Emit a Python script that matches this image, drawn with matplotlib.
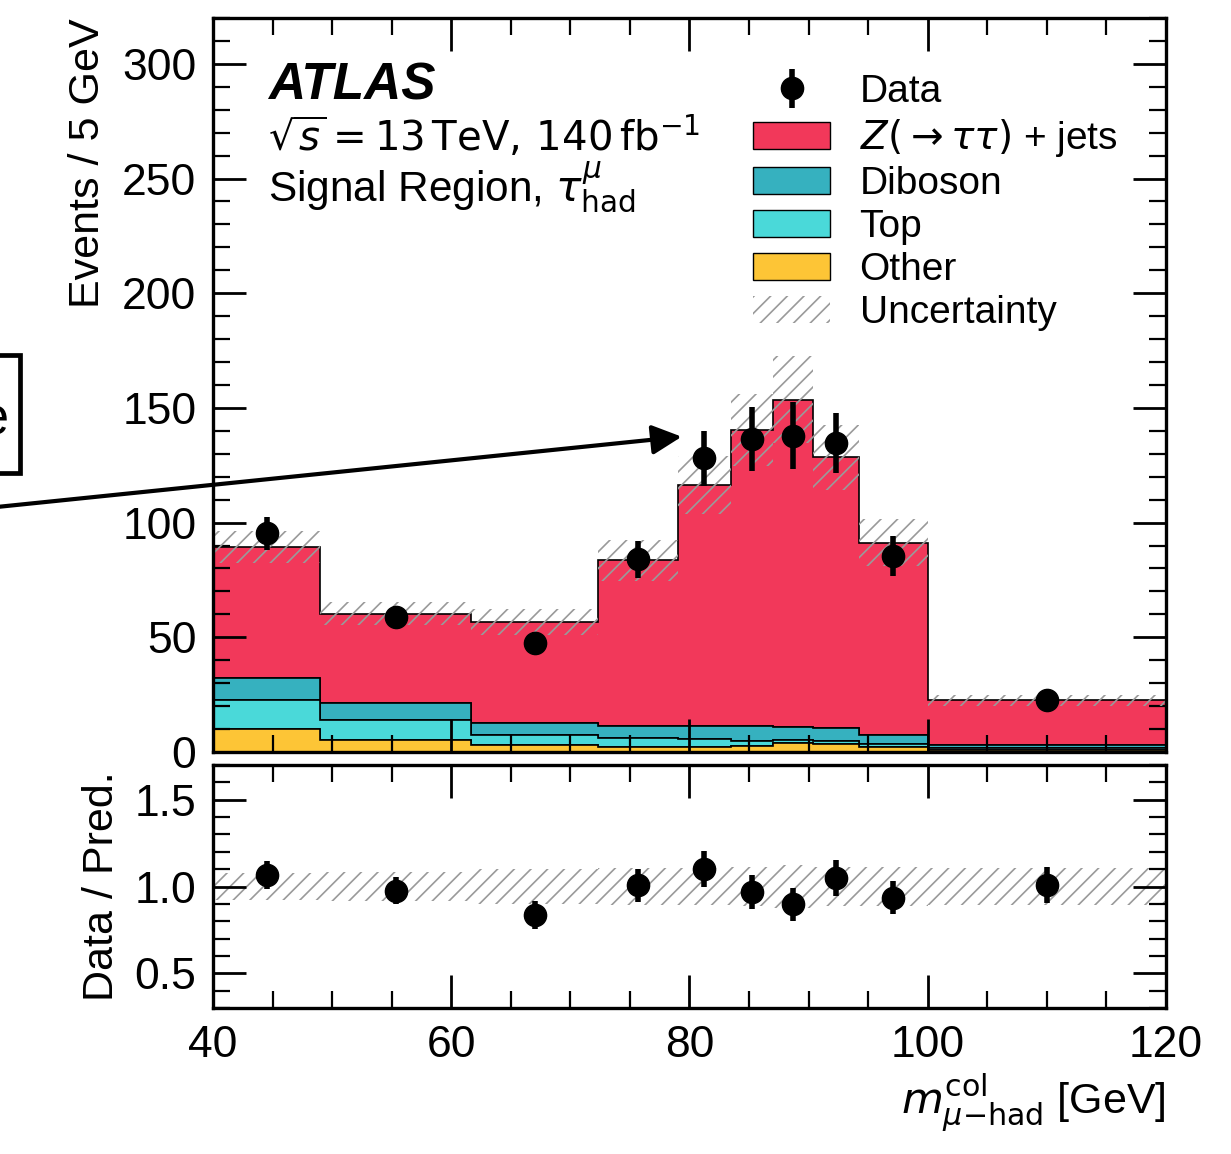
import matplotlib
matplotlib.use("Agg")
import matplotlib.pyplot as plt
import numpy as np
from matplotlib.patches import Patch, Rectangle
from matplotlib.ticker import MultipleLocator

plt.rcParams['font.family'] = ['Liberation Sans', 'DejaVu Sans']
plt.rcParams['mathtext.fontset'] = 'dejavusans'
plt.rcParams['hatch.linewidth'] = 1.2

# binning and yields
bin_edges = [40, 49, 61.7, 72.3, 79, 83.5, 87, 90.4, 94.2, 100, 120]
z_jets = [57.2, 38.8, 44.0, 72.0, 105.0, 129.2, 142.6, 117.8, 83.8, 19.5]
diboson = [9.4, 7.5, 5.4, 5.5, 5.6, 6.5, 5.8, 5.7, 3.9, 1.4]
top = [12.8, 8.8, 4.4, 3.9, 3.7, 2.2, 1.4, 1.4, 1.2, 0.6]
other = [9.9, 5.2, 3.0, 2.1, 2.0, 2.6, 3.8, 3.5, 2.3, 1.0]
syst_unc = [7.0, 5.0, 5.7, 8.8, 12.6, 15.7, 19.0, 14.3, 10.2, 2.4]
data = [95.3, 58.9, 47.5, 84.0, 128.0, 136.4, 137.9, 134.7, 85.4, 22.7]
data_err = [7.3, 4.8, 4.6, 8.0, 11.9, 13.8, 14.6, 13.1, 8.7, 2.3]

labels = ["Other", "Top", "Diboson", r"$Z(\rightarrow\tau\tau)$ + jets"]
colors = ["#fdc536", "#4ad9d9", "#36b1bf", "#f2385a"]

edges = np.array(bin_edges)
centers = 0.5 * (edges[1:] + edges[:-1])
total = np.array(z_jets) + np.array(diboson) + np.array(top) + np.array(other)
unc = np.array(syst_unc)
data = np.array(data)
data_err = np.array(data_err)

fig = plt.figure(figsize=(12.31, 11.54), dpi=100)
ax = fig.add_axes([0.173, 0.3484, 0.7742, 0.6360])
ax2 = fig.add_axes([0.173, 0.1265, 0.7742, 0.2106])

ax.hist([centers] * 4, bins=edges, weights=[other, top, diboson, z_jets],
        stacked=True, histtype='stepfilled', color=colors,
        edgecolor='black', linewidth=1.2, zorder=1)
ax.stairs(total + unc, edges, baseline=total - unc, fill=True, hatch='//',
          facecolor='none', edgecolor='#9a9a9a', linewidth=0, zorder=2)
eb = ax.errorbar(centers, data, yerr=data_err, fmt='o', color='black',
                 markersize=16, elinewidth=4, capsize=0, zorder=3)

ratio = data / total
ax2.stairs(1 + unc / total, edges, baseline=1 - unc / total, fill=True, hatch='//',
           facecolor='none', edgecolor='#9a9a9a', linewidth=0, zorder=1)
ax2.errorbar(centers, ratio, yerr=data_err / total, fmt='o', color='black',
             markersize=16, elinewidth=4, capsize=0, zorder=3)

ax.set_xlim(40, 120)
ax.set_ylim(0, 320)
ax2.set_xlim(40, 120)
ax2.set_ylim(0.3, 1.7)

for a in (ax, ax2):
    a.xaxis.set_major_locator(MultipleLocator(20))
    a.xaxis.set_minor_locator(MultipleLocator(5))
    a.tick_params(which='both', direction='in', top=True, right=True, labelsize=32, pad=12)
    a.tick_params(which='major', length=24, width=2)
    a.tick_params(which='minor', length=12, width=1.6)
    for s in a.spines.values():
        s.set_linewidth(2.4)
ax.yaxis.set_major_locator(MultipleLocator(50))
ax.yaxis.set_minor_locator(MultipleLocator(10))
ax2.yaxis.set_major_locator(MultipleLocator(0.5))
ax2.yaxis.set_minor_locator(MultipleLocator(0.1))
ax2.set_yticks([0.5, 1.0, 1.5])
ax2.set_yticklabels(["0.5", "1.0", "1.5"])
ax.tick_params(labelbottom=False)

ax.set_ylabel("Events / 5 GeV", fontsize=31, loc='top', labelpad=10)
ax2.set_ylabel("Data / Pred.", fontsize=31, labelpad=9)
ax2.set_xlabel(r"$m^{\mathrm{col}}_{\mu\mathrm{-had}}$ [GeV]", fontsize=31, loc='right')

ax.text(0.058, 0.889, "ATLAS", transform=ax.transAxes, fontsize=37,
        fontweight='bold', fontstyle='italic')
ax.text(0.058, 0.819, r"$\sqrt{s} = 13\,\mathrm{TeV},\,140\,\mathrm{fb}^{-1}$",
        transform=ax.transAxes, fontsize=29)
ax.text(0.058, 0.751, r"Signal Region, $\tau^{\mu}_{\mathrm{had}}$", transform=ax.transAxes, fontsize=30.5)

handles = [eb] + [Patch(facecolor=c, edgecolor='black', linewidth=1) for c in colors[::-1]]
handles.append(Patch(facecolor='none', edgecolor='#9a9a9a', hatch='//', linewidth=0))
leg_labels = ["Data"] + labels[::-1] + ["Uncertainty"]
ax.legend(handles, leg_labels, loc='upper left', bbox_to_anchor=(0.567, 0.924),
          frameon=False, fontsize=28, borderpad=0, borderaxespad=0,
          handlelength=1.98, handleheight=0.7, handletextpad=0.75, labelspacing=0.18)

# leftover annotation box and arrow from the original layout
fig.add_artist(Rectangle((-100 / 1231, 1 - 473 / 1154), 120 / 1231, 118 / 1154,
                         transform=fig.transFigure, facecolor='white',
                         edgecolor='black', linewidth=3.4))
fig.text(9 / 1231, 1 - 420 / 1154, "Z resonance", ha='right', va='center', fontsize=38)
ax.annotate('', xy=(681.7, 717.3), xycoords='figure pixels',
            xytext=(-50, 642.2), textcoords='figure pixels',
            arrowprops=dict(arrowstyle='-|>', lw=3, color='black',
                            mutation_scale=45, shrinkA=0, shrinkB=0),
            annotation_clip=False)

fig.savefig('out.png', dpi=100)
